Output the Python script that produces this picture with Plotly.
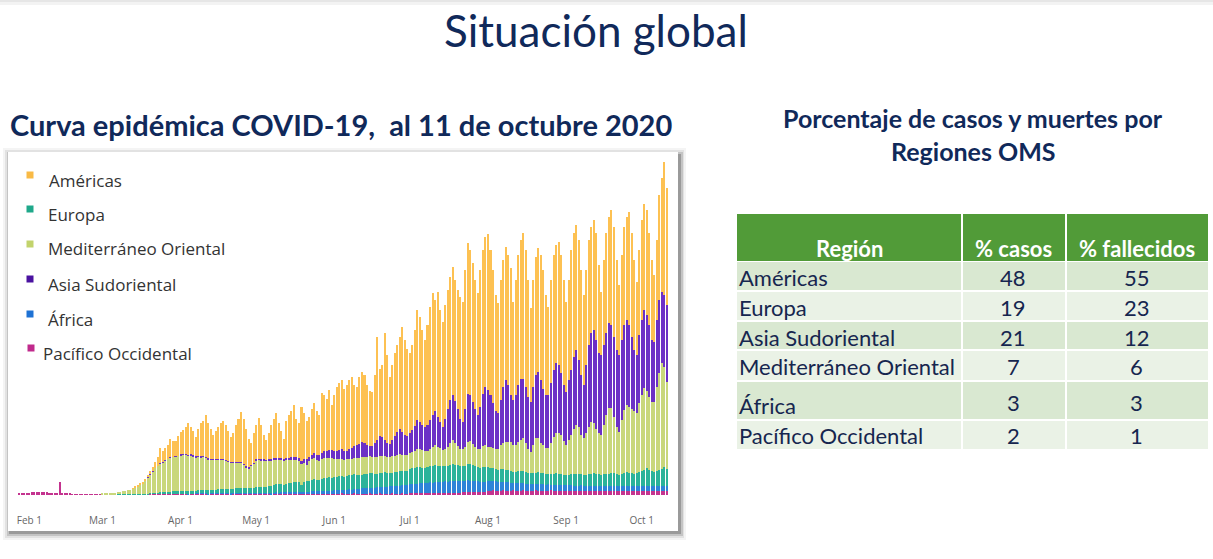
import plotly.graph_objects as go
import pandas as pd

W, H = 1213, 559

# ---------------- data (thousands of daily cases) ----------------
start_date = "2020-01-28"
tick_dates = ["2020-02-01", "2020-03-01", "2020-04-01", "2020-05-01", "2020-06-01",
              "2020-07-01", "2020-08-01", "2020-09-01", "2020-10-01"]
tick_labels = ["Feb 1", "Mar 1", "Apr 1", "May 1", "Jun 1", "Jul 1", "Aug 1", "Sep 1", "Oct 1"]

pacifico = [
    1.5, 2, 2, 2.5, 2.5, 3, 3, 3.5, 3, 3, 3, 3, 2.5, 2.5, 2.5, 2, 13.5, 2.5, 2, 1.5, 1.5, 1, 1,
    0.3, 0.2, 0.3, 0.3, 0.4, 0.5, 0.5, 0.6, 0.6, 0.5,
    0.6, 0.6, 0.7, 0.7, 0.7, 0.8, 0.8, 0.8, 0.8, 0.8, 0.8, 0.8, 0.8, 0.9, 0.9, 0.9, 0.9, 0.9, 0.9,
    1, 1, 1, 1, 1, 1, 1, 1, 1, 1, 1, 1,
    1, 1.1, 1, 0.9, 1, 1, 1.1, 1, 1, 1.1, 1, 0.9, 1, 1, 1.1, 1, 1, 1, 1.1, 1, 0.9, 1, 1, 1.1, 1, 1, 1, 1, 1.1, 1,
    1, 1, 1.1, 1, 1, 1, 0.9, 1, 1.1, 1, 1, 1, 1, 1, 1.1, 1, 1, 1, 1, 1.1, 1, 1, 1, 1, 1.1, 1, 1, 1, 1, 1.1, 1,
    1.4, 1.5, 1.5, 1.6, 1.5, 1.4, 1.5, 1.5, 1.6, 1.5, 1.5, 1.4, 1.5, 1.5, 1.6, 1.5, 1.5, 1.5, 1.6, 1.5,
    1.4, 1.5, 1.5, 1.6, 1.5, 1.5, 1.5, 1.6, 1.5, 1.5,
    2, 2, 2.1, 2, 2, 1.9, 2, 2, 2.1, 2, 2, 2, 1.9, 2, 2, 2, 2.1, 2, 2, 2, 2, 2.8, 3, 3.1, 3, 3, 2.9, 3, 3.2, 3, 3,
    4.3, 4.5, 4.6, 4.5, 4.4, 4.5, 4.6, 4.5, 4.5, 4.4, 4.6, 4.5, 4.5, 4.5, 4.6, 4.5, 4.4, 4.5, 4.5, 4.6,
    4.5, 4.5, 4.4, 4.5, 4.5, 4.6, 4.5, 4.5, 4.4, 4.5, 4.3,
    4, 4.1, 4, 4, 3.9, 4, 4.1, 4, 4, 4, 4.1, 4, 3.9, 4, 4, 4.1, 4, 4, 4, 4.1, 4, 3.9, 4, 4, 4.1, 4, 4, 4, 4.1, 4,
    4, 4, 4.1, 4, 3.9, 4, 4, 4.1, 4, 4, 4,
]

africa = [
    0, 0, 0, 0, 0, 0, 0, 0, 0, 0, 0, 0, 0, 0, 0, 0, 0, 0, 0, 0, 0, 0, 0, 0, 0, 0, 0, 0, 0, 0, 0, 0, 0,
    0, 0, 0, 0, 0, 0, 0, 0, 0, 0, 0, 0, 0, 0, 0, 0, 0, 0, 0, 0, 0, 0, 0,
    0.1, 0.1, 0.2, 0.2, 0.2, 0.3, 0.3, 0.3,
    0.4, 0.4, 0.5, 0.5, 0.5, 0.5, 0.5, 0.6, 0.6, 0.6, 0.6, 0.6, 0.7, 0.7, 0.7, 0.7, 0.8, 0.8, 0.8, 0.8,
    0.9, 0.9, 0.9, 0.9, 1, 1, 1, 1, 1, 1,
    1, 1, 1.1, 1.1, 1.2, 1.2, 1.3, 1.4, 1.5, 1.5, 1.6, 1.7, 1.7, 1.8, 1.9, 2, 2, 2.1, 2.2, 2.3,
    2.4, 2.5, 2.6, 2.6, 2.7, 2.8, 2.9, 3, 3, 3.1, 3.2,
    3.3, 3.6, 3.4, 3.6, 3.9, 3.7, 4.1, 4.0, 4.5, 4.6, 4.7, 5.2, 5.1, 5.4, 5.5, 5.9, 6.0, 6.1, 6.6, 6.5,
    6.8, 6.9, 7.3, 7.3, 7.5, 7.9, 8.0, 8.1, 8.5, 8.6,
    8.7, 9.1, 9.3, 9.3, 9.8, 9.7, 10.1, 10.1, 10.5, 10.5, 11, 10.9, 11.3, 11.3, 11.6, 11.5, 11.9, 12.1,
    11.9, 12.1, 11.7, 11.7, 11.4, 11.5, 11.1, 11.1, 10.7, 10.7, 10.3, 10.3, 9.9,
    9.9, 9.5, 9.5, 9.1, 9.1, 8.7, 8.7, 8.3, 8.3, 7.9, 7.9, 7.5, 7.5, 7.1, 7.1, 6.8, 6.9, 6.6, 6.7, 6.4,
    6.5, 6.2, 6.3, 6.0, 6.1, 5.9, 6.0, 5.8, 5.9, 5.7, 5.8,
    5.8, 5.5, 5.7, 5.4, 5.6, 5.4, 5.5, 5.3, 5.5, 5.2, 5.4, 5.2, 5.3, 5.1, 5.3, 5.1, 5.2, 5.0, 5.2, 5.0,
    5.1, 4.9, 5.1, 4.9, 5.1, 4.9, 5.1, 4.9, 5.1, 4.9,
    5.0, 5.1, 4.9, 5.1, 4.9, 5.0, 5.1, 4.9, 5.1, 5.0, 5.0,
]

europa = [
    0, 0, 0, 0, 0, 0, 0, 0, 0, 0, 0, 0, 0, 0, 0, 0, 0, 0, 0, 0, 0, 0, 0, 0, 0, 0, 0, 0, 0, 0, 0, 0, 0,
    0.1, 0.1, 0.1, 0.1, 0.1, 0.1, 0.2, 0.2, 0.2, 0.2, 0.2, 0.2, 0.3, 0.3, 0.3, 0.3, 0.3,
    0.4, 0.5, 0.6, 0.8, 1, 1.2, 1.5, 1.7, 1.9, 2, 2.2, 2.3, 2.4, 2.5,
    2.5, 2.6, 2.7, 2.8, 2.9, 2.8, 2.7, 3, 3.2, 3.4, 3.5, 3.4, 3.3, 3.2, 3.6, 3.9, 4.2, 4.3, 4.2, 4,
    3.9, 4.4, 4.8, 5, 5.1, 5, 4.8, 4.6, 5, 5.3,
    5.8, 6, 6.2, 6, 5.8, 6.4, 7, 7.5, 8, 8.2, 8, 7.8, 8.4, 9, 9.4, 9.8, 10, 9.6, 7, 9.8,
    10.5, 11, 11.5, 12, 11.6, 11.2, 12, 12.6, 13, 13.4, 13.2,
    13, 13.4, 13.8, 13.5, 13, 13.6, 14, 14.2, 14.5, 14.2, 13.8, 13.6, 14, 14.4, 14.6, 14.2, 13.8, 13.6, 14, 14.2,
    14.4, 14, 13.6, 13.4, 13.8, 14, 14.2, 14, 13.8, 13.6,
    15, 15.5, 16, 16.5, 16, 15.5, 15, 15.5, 16, 16.5, 17, 16.5, 16, 15.5, 15, 15.5, 16, 17, 16.5, 15.5,
    15, 14.5, 15, 16, 17, 16, 15, 14.5, 14, 14.5, 15,
    14, 13.5, 13, 12.5, 12, 12.5, 13, 12.5, 12, 11.5, 11, 11.5, 12, 12.5, 12, 11.5, 11, 10.5, 11, 11.5,
    12, 11.5, 11, 10.5, 10, 10.5, 11, 11.5, 11, 10.5, 10,
    10, 10.5, 11, 11.5, 12, 11.5, 11, 10.5, 11, 11.5, 12, 12.5, 12, 11.5, 11, 11.5, 12, 12.5, 13, 12.5,
    12, 11.5, 12, 13, 14, 13.5, 13, 12.5, 13, 14,
    15, 16, 18, 16, 15, 14.5, 15, 16, 17, 19, 17,
]

mediterraneo = [
    0, 0, 0, 0, 0, 0, 0, 0, 0, 0, 0, 0, 0, 0, 0, 0, 0, 0, 0, 0, 0, 0, 0, 0, 0, 0, 0, 0, 0, 0, 0, 0, 0,
    0.5, 0.5, 0.7, 1, 1.2, 1.5, 2, 2.5, 3, 3.5, 4, 4.5, 5.5, 6.5, 7.5, 9, 10.5,
    13, 16, 19, 22, 25, 27, 29, 30, 31.5, 33, 34, 34.5, 35, 35.5,
    36, 36, 36, 35.5, 35.5, 34.5, 33.5, 33.5, 33, 33, 32, 31, 30, 30.5, 30, 29.5, 29, 29, 28, 27.5,
    26.5, 26, 25.5, 25, 25, 23, 21, 20, 22, 24,
    27, 27, 26.5, 26, 26, 25.5, 25, 25, 24.5, 24, 24, 24, 23.5, 23, 23, 22.5, 22, 21.5, 21, 19,
    16, 20, 20.5, 21, 20, 19.5, 20, 20.5, 20, 19.5, 19.5,
    18, 18, 17.5, 17.5, 17, 17, 16.5, 16.5, 16.5, 17, 17, 17.5, 17.5, 17, 17, 16.5, 16.5, 17, 17, 16.5,
    16, 16, 16, 16.5, 16.5, 17, 17, 16.5, 16.5, 16,
    16, 16.5, 17, 18, 18.5, 17.5, 16.5, 16.5, 17.5, 19, 20, 19, 17.5, 16.5, 17, 19, 22, 24, 22, 19,
    17, 17, 19, 22, 23, 21, 19, 18, 19, 21, 22,
    20, 20.5, 20, 20, 20.5, 24, 26, 27.5, 28, 29, 26.5, 26.5, 29, 31, 33.5, 29, 23.5, 21.5, 28, 34.5,
    34, 29.5, 28.5, 26, 26.5, 31, 36.5, 40, 40.5, 39, 34,
    30, 35, 39.5, 45, 48.5, 47, 39.5, 37, 41.5, 47, 51.5, 50, 45, 41.5, 40, 49.5, 59, 65.5, 65, 56.5,
    47, 42.5, 54, 63, 67, 65.5, 64, 62.5, 60, 69,
    76, 82, 77, 73, 69, 69.5, 84, 97, 106, 100, 87,
]

asia = [
    0, 0, 0, 0, 0, 0, 0, 0, 0, 0, 0, 0, 0, 0, 0, 0, 0, 0, 0, 0, 0, 0, 0, 0, 0, 0, 0, 0, 0, 0, 0, 0, 0,
    0, 0, 0, 0, 0, 0, 0, 0, 0, 0, 0, 0, 0, 0, 0, 0, 0,
    0.2, 0.2, 0.2, 0.2, 0.2, 0.2, 0.2, 0.2, 0.2, 0.2, 0.2, 0.2, 0.2, 0.2,
    0.8, 0.8, 0.8, 0.8, 0.8, 0.8, 0.8, 0.9, 0.9, 0.9, 0.9, 0.9, 0.9, 0.9, 1, 1, 1, 1, 1, 1,
    1, 1, 1, 1, 1, 1, 1, 1, 1, 1,
    1.5, 1.5, 1.5, 1.5, 1.5, 1.5, 1.5, 2, 2, 2, 2, 2, 2, 2, 3, 3, 3, 3, 3, 4,
    6, 4, 4.5, 5, 5, 5.5, 6, 6.5, 7, 7.5, 8,
    8, 8, 9, 10, 9, 8, 10, 11, 12, 13, 14, 15, 14, 12, 10, 11, 14, 17, 20, 19,
    16, 14, 13, 16, 20, 23, 25, 23, 20, 19,
    20, 22, 25, 29, 27, 25, 24, 26, 29, 32, 34, 30, 26, 23, 30, 38, 43, 45, 42, 37,
    30, 27, 38, 48, 46, 42, 38, 34, 42, 52, 58,
    57, 52, 45, 38, 36, 45, 56, 62, 57, 47, 45, 50, 57, 61, 59, 56, 52, 50, 58, 63,
    66, 63, 56, 53, 53, 60, 67, 70, 68, 62, 56,
    53, 60, 65, 72, 75, 67, 60, 53, 68, 82, 89, 93, 89, 80, 80, 80, 82, 85, 83, 80,
    77, 77, 80, 85, 85, 82, 72, 61, 58, 68,
    75, 78, 76, 72, 62, 60, 67, 73, 71, 72, 77,
]

americas = [
    0, 0, 0, 0, 0, 0, 0, 0, 0, 0, 0, 0, 0, 0, 0, 0, 0, 0, 0, 0, 0, 0, 0, 0, 0, 0, 0, 0, 0, 0, 0, 0, 0,
    0, 0, 0, 0, 0, 0, 0, 0, 0, 0, 0, 0, 0.3, 0.5, 0.7, 1, 1.5, 2,
    2, 3, 4, 6, 9, 15, 11, 12, 14, 18, 16, 15, 20,
    22, 24, 27, 31.5, 27.5, 24.5, 19.5, 27, 33.5, 35, 42, 35, 30, 23.5, 27.5, 32, 36, 38, 35, 29.5,
    24.5, 28.5, 37, 43, 50, 45, 37, 28.5, 22, 29.5,
    33.5, 40.5, 33.5, 24.5, 19.5, 26.5, 34, 39, 45, 35.5, 27.5, 19.5, 37.5, 43, 45.5, 51.5, 38, 35, 54, 46,
    38, 39.5, 46, 50.5, 43.5, 40, 60, 56.5, 52, 60.5, 45,
    56, 63.5, 66.5, 69, 62, 66, 69, 70.5, 61, 57.5, 67, 70.5, 68, 59.5, 55.5, 54, 68, 102.5, 67, 72,
    107.5, 87.5, 66.5, 75, 82.5, 86.5, 92.5, 105, 95, 87.5,
    80, 85, 96, 110, 105, 95, 87.5, 100, 113, 122, 111, 124.5, 112, 104.5, 114.5, 119, 123, 128, 120.5, 119.5,
    122, 120, 138.5, 151.5, 145, 139, 129, 122, 136.5, 144.5, 150,
    156, 145, 133, 116, 110, 120, 127, 133, 130, 127, 98, 115, 130, 139, 146, 137, 117, 94, 107, 118,
    124, 125, 119, 100, 88, 103, 115, 118, 123, 118, 105,
    90, 100, 120, 124, 125, 120, 105, 90, 95, 105, 106, 110, 107, 88, 63, 85, 100, 106, 115, 110,
    90, 70, 85, 98, 103, 113, 104, 90, 73, 85,
    100, 106, 105, 92, 80, 67, 80, 105, 114, 133, 117,
]

for _s in (pacifico, africa, europa, mediterraneo, asia):
    assert len(_s) == len(americas), (len(_s), len(americas))

# stacking order (bottom -> top) as drawn in the picture
stack_names = ["Pacífico Occidental", "África", "Europa", "Mediterráneo Oriental",
               "Asia Sudoriental", "Américas"]
stack_values = [pacifico, africa, europa, mediterraneo, asia, americas]
stack_colors = ["#C4338F", "#2E84D8", "#2BB39A", "#C9D77B", "#6C30C6", "#FDC152"]

# legend (as shown, top -> bottom)
legend_labels = ["Américas", "Europa", "Mediterráneo Oriental", "Asia Sudoriental",
                 "África", "Pacífico Occidental"]
legend_colors = ["#F9BA45", "#1FA88A", "#C2D36C", "#4A12A0", "#1E72D4", "#C02A8C"]

# table
table_header = ["Región", "% casos", "% fallecidos"]
regiones = ["Américas", "Europa", "Asia Sudoriental", "Mediterráneo Oriental",
            "África", "Pacífico Occidental"]
pct_casos = [48, 19, 21, 7, 3, 2]
pct_fallecidos = [55, 23, 12, 6, 3, 1]

dates = pd.date_range(start_date, periods=len(americas), freq="D")


def px(x):
    return x / W


def py(y):
    return 1 - y / H


NAVY = "#10295A"
TEXT = "#16264F"

fig = go.Figure()
for name, vals, color in zip(stack_names, stack_values, stack_colors):
    fig.add_trace(go.Bar(x=dates, y=vals, name=name, showlegend=False,
                         marker=dict(color=color, line=dict(width=0))))

shapes = []
annotations = []


def rect(x0, y0, x1, y1, color, layer="below"):
    shapes.append(dict(type="rect", xref="paper", yref="paper",
                       x0=px(x0), x1=px(x1), y0=py(y1), y1=py(y0),
                       fillcolor=color, line=dict(width=0), layer=layer))


def text(x, y, s, size, color=TEXT, family="Lato", xanchor="center", bold=False):
    if bold:
        s = "<b>" + s + "</b>"
    annotations.append(dict(xref="paper", yref="paper", x=px(x), y=py(y), text=s,
                            showarrow=False, xanchor=xanchor, yanchor="middle",
                            font=dict(family=family, size=size, color=color)))


# slide top shade
rect(0, 0, W, 2, "#e6e6e6")
rect(0, 2, W, 5, "#f3f3f3")

# chart card with soft shadow
rect(3, 148, 686, 540, "#f4f4f4")
rect(5, 150, 684, 538, "#e2e2e2")
rect(7, 152, 683, 536, "#c4c4c4")
rect(9, 154, 681, 534, "#9a9a9a")
rect(8, 152, 678, 531, "#ffffff")

# legend
leg_y = [179, 213, 248, 283, 318, 352]
leg_sq_x = [30, 30, 30, 30, 30, 31]
leg_tx_x = [47, 46, 46, 46, 46, 41]
for lab, col, yy, sx, tx in zip(legend_labels, legend_colors, leg_y, leg_sq_x, leg_tx_x):
    rect(sx - 3.5, yy - 7.5, sx + 3.5, yy - 0.5, col, layer="above")
    text(tx, yy + 1, lab, 17, color="#333333", family="Open Sans", xanchor="left")

# titles
text(596, 30, "Situación global", 44, color=NAVY)
text(8, 124, "Curva epidémica COVID-19,  al 11 de octubre 2020", 29, color=NAVY,
     xanchor="left", bold=True)
text(973, 118, "Porcentaje de casos y muertes por", 25, color=NAVY, bold=True)
text(973, 151, "Regiones OMS", 25, color=NAVY, bold=True)

# table
tx0, c1, c2, tx1 = 737, 961, 1065, 1208
rect(tx0, 214, tx1, 261, "#519B38")
rect(c1, 214, c1 + 2, 261, "#ffffff")
rect(c2, 214, c2 + 2, 261, "#ffffff")
hy = 248
text((tx0 + c1) / 2, hy, table_header[0], 22, color="#ffffff", bold=True)
text((c1 + c2) / 2, hy, table_header[1], 22, color="#ffffff", bold=True)
text((c2 + tx1) / 2, hy, table_header[2], 22, color="#ffffff", bold=True)

row_top = [262, 292, 322, 351, 382, 421]
row_bot = [290, 320, 349, 380, 419, 449]
row_txt = [277, 307, 337, 366, 405, 435]
row_num = [277, 307, 337, 366, 402, 435]
row_fill = ["#D9E8D1", "#EAF2E6", "#D9E8D1", "#EAF2E6", "#D9E8D1", "#EAF2E6"]
for i in range(len(regiones)):
    rect(tx0, row_top[i], c1, row_bot[i], row_fill[i])
    rect(c1 + 2, row_top[i], c2, row_bot[i], row_fill[i])
    rect(c2 + 2, row_top[i], tx1, row_bot[i], row_fill[i])
    text(737, row_txt[i], regiones[i], 22, xanchor="left")
    text((c1 + c2) / 2, row_num[i], str(pct_casos[i]), 22)
    text((c2 + tx1) / 2, row_num[i], str(pct_fallecidos[i]), 22)

fig.update_layout(
    width=W, height=H,
    margin=dict(l=0, r=0, t=0, b=0),
    paper_bgcolor="#ffffff",
    plot_bgcolor="rgba(0,0,0,0)",
    barmode="stack",
    bargap=0.2,
    showlegend=False,
    shapes=shapes,
    annotations=annotations,
    xaxis=dict(
        domain=[px(14), px(672)],
        type="date",
        range=["2020-01-25 22:00", "2020-10-13 00:30"],
        tickmode="array",
        tickvals=tick_dates,
        ticktext=tick_labels,
        showgrid=False, zeroline=False, showline=False, ticks="",
        tickfont=dict(family="Open Sans", size=10, color="#666666"),
        ticklabelstandoff=18,
    ),
    yaxis=dict(
        domain=[py(495), py(160)],
        range=[0, 335],
        visible=False,
    ),
)

fig.write_html("out.html",
               config={"displayModeBar": False},
               post_script="document.body.style.margin='0px';document.body.style.overflow='hidden';")
